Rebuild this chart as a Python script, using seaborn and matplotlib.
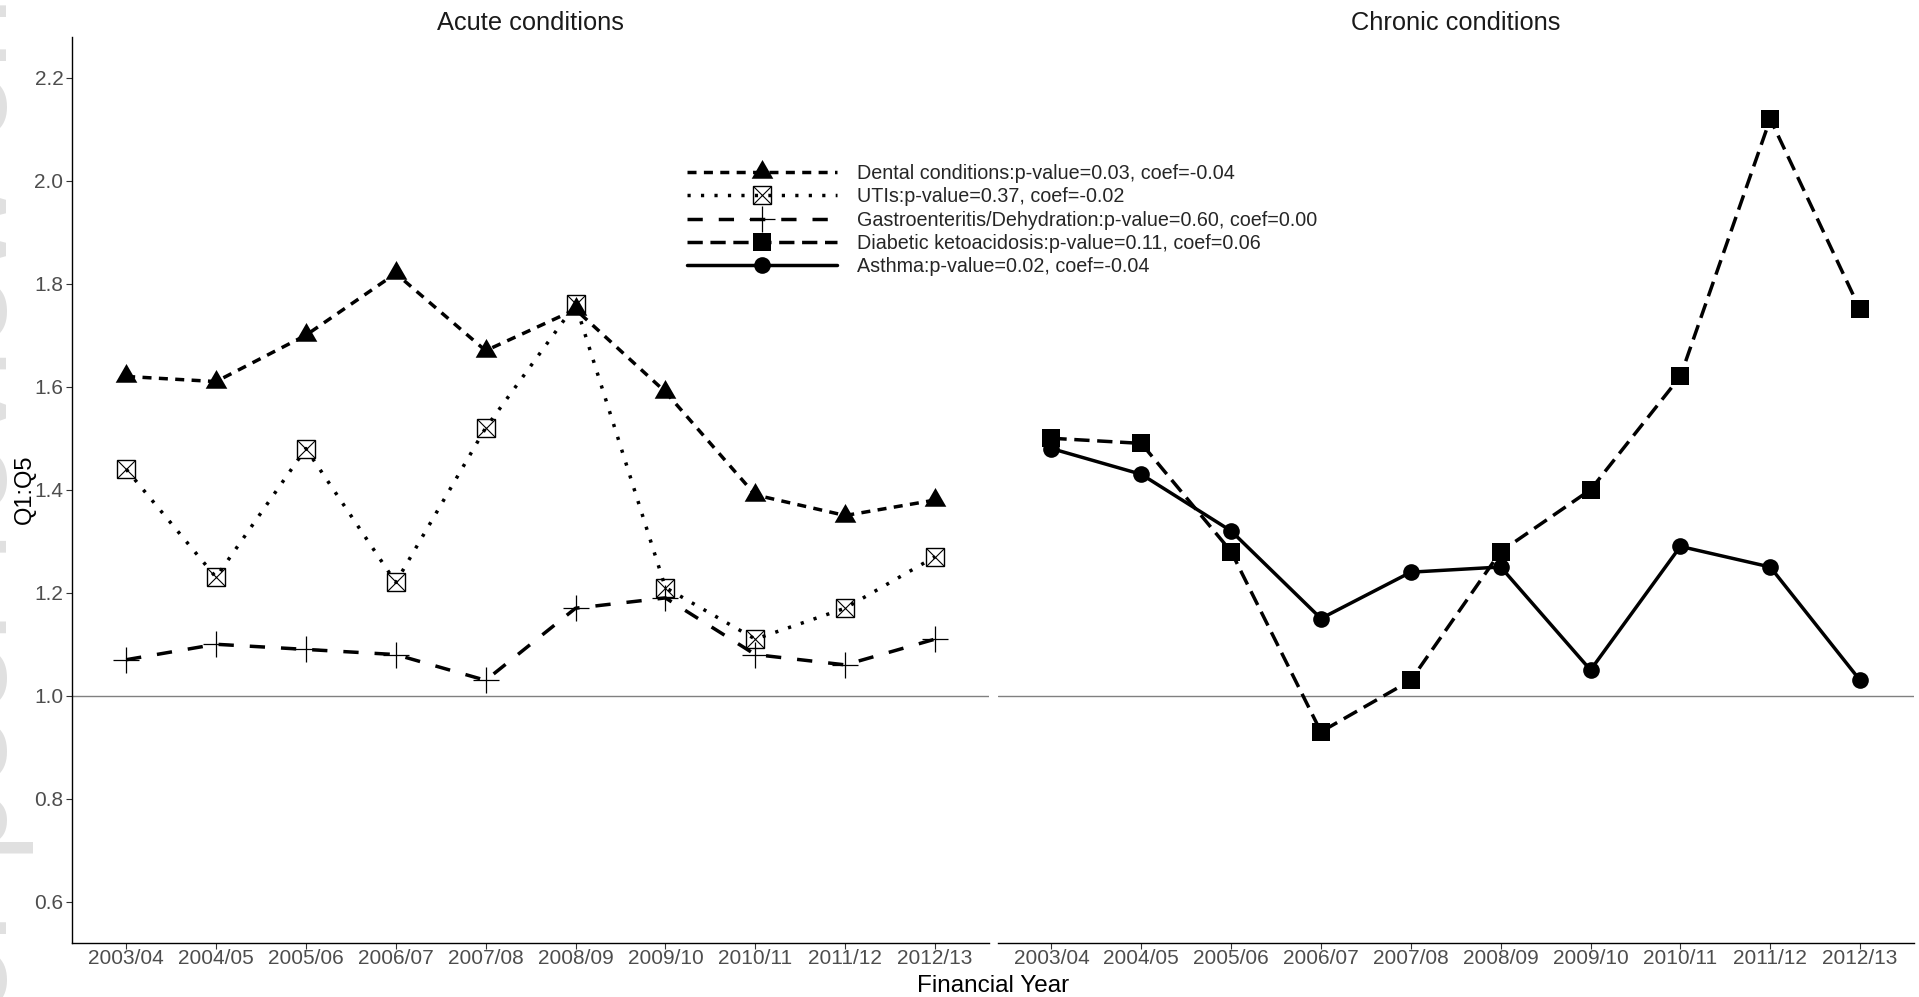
import matplotlib
matplotlib.use("Agg")
import matplotlib.pyplot as plt
import seaborn as sns
from matplotlib.lines import Line2D
from matplotlib.path import Path

# ---- data -------------------------------------------------------------
years = ["2003/04", "2004/05", "2005/06", "2006/07", "2007/08",
         "2008/09", "2009/10", "2010/11", "2011/12", "2012/13"]

dental = [1.62, 1.61, 1.70, 1.82, 1.67, 1.75, 1.59, 1.39, 1.35, 1.38]
utis = [1.44, 1.23, 1.48, 1.22, 1.52, 1.76, 1.21, 1.11, 1.17, 1.27]
gastro = [1.07, 1.10, 1.09, 1.08, 1.03, 1.17, 1.19, 1.08, 1.06, 1.11]
dka = [1.50, 1.49, 1.28, 0.93, 1.03, 1.28, 1.40, 1.62, 2.12, 1.75]
asthma = [1.48, 1.43, 1.32, 1.15, 1.24, 1.25, 1.05, 1.29, 1.25, 1.03]

legend_labels = [
    "Dental conditions:p-value=0.03, coef=-0.04",
    "UTIs:p-value=0.37, coef=-0.02",
    "Gastroenteritis/Dehydration:p-value=0.60, coef=0.00",
    "Diabetic ketoacidosis:p-value=0.11, coef=0.06",
    "Asthma:p-value=0.02, coef=-0.04",
]
panel_titles = ["Acute conditions", "Chronic conditions"]
y_ticks = [0.6, 0.8, 1.0, 1.2, 1.4, 1.6, 1.8, 2.0, 2.2]

# ---- style ------------------------------------------------------------
sns.set_style("white")
plt.rcParams["font.family"] = ["Liberation Sans", "DejaVu Sans"]
plt.rcParams["lines.scale_dashes"] = False
plt.rcParams["lines.dash_capstyle"] = "butt"

LW = 2.5
DASH_DENTAL = (0, (6.5, 5.3))
DOT_UTI = (0, (2.3, 7.4))
DASH_GASTRO = (0, (11.0, 11.5))
DASH_DKA = (0, (11.0, 5.5))

tri = Path([(0, 1), (-0.866, -0.5), (0.866, -0.5), (0, 1)],
           [Path.MOVETO, Path.LINETO, Path.LINETO, Path.CLOSEPOLY])

styles = {
    "dental": dict(ls=DASH_DENTAL, marker=tri, markersize=18, mfc="black",
                   mec="black", mew=0),
    "utis": dict(ls=DOT_UTI, marker="s", markersize=13, mfc="none",
                 mec="black", mew=1.0),
    "gastro": dict(ls=DASH_GASTRO, marker="+", markersize=19, mec="black",
                   mew=0.9),
    "dka": dict(ls=DASH_DKA, marker="s", markersize=12.7, mfc="black",
                mec="black", mew=0),
    "asthma": dict(ls="-", marker="o", markersize=12, mfc="black",
                   mec="black", mew=0),
}

W, H = 1919, 997
fig = plt.figure(figsize=(W / 100, H / 100), dpi=100)
fig.patch.set_facecolor("white")

# faint margin watermark
fig.text(34 / W, 0.5, "For peer review only", rotation=90, fontsize=95,
         color="#e0e0e0", ha="right", va="center", zorder=0)

top_px, bot_px = 37.0, 942.5
b = 1 - bot_px / H
h = (bot_px - top_px) / H
ax1 = fig.add_axes([72.2 / W, b, (989 - 72.2) / W, h])
ax2 = fig.add_axes([997.5 / W, b, (1914 - 997.5) / W, h])
for ax in (ax1, ax2):
    ax.set_facecolor("none")


def draw(ax, y, key):
    sns.lineplot(x=years, y=y, ax=ax, color="black", lw=LW, sort=False,
                 errorbar=None, **styles[key])


draw(ax1, dental, "dental")
draw(ax1, utis, "utis")
sns.lineplot(x=years, y=utis, ax=ax1, color="black", ls="none", marker="x",
             markersize=12.6, mec="black", mew=0.8, sort=False, errorbar=None)
draw(ax1, gastro, "gastro")
draw(ax2, dka, "dka")
draw(ax2, asthma, "asthma")

for ax in (ax1, ax2):
    ax.axhline(1.0, color="#808080", lw=1.0, zorder=1)
    ax.set_xlim(-0.6, 9.6)
    ax.set_ylim(0.521, 2.279)
    ax.set_xlabel("")
    ax.set_ylabel("")
    ax.set_xticks(range(len(years)))
    ax.set_xticklabels(years)
    for s in ("top", "right"):
        ax.spines[s].set_visible(False)
    ax.spines["bottom"].set_color("black")
    ax.spines["bottom"].set_linewidth(1.0)
    ax.tick_params(axis="x", length=4, width=0.8, color="#333333",
                   labelsize=15, labelcolor="#4D4D4D", pad=1.0, bottom=True)
    ax.grid(False)

ax1.spines["left"].set_color("black")
ax1.spines["left"].set_linewidth(1.0)
ax1.set_yticks(y_ticks)
ax1.set_yticklabels([f"{v:.1f}" for v in y_ticks])
ax1.tick_params(axis="y", length=4, width=0.8, color="#333333",
                labelsize=15, labelcolor="#4D4D4D", pad=2.4, left=True)
ax2.spines["left"].set_visible(False)
ax2.set_yticks([])

# panel titles
for ax, t in zip((ax1, ax2), panel_titles):
    pos = ax.get_position()
    fig.text(pos.x0 + pos.width / 2, 1 - 30 / H, t, ha="center",
             va="baseline", fontsize=18.3, color="#1A1A1A")

fig.text(993.1 / W, 1 - 991.5 / H, "Financial Year", ha="center",
         va="baseline", fontsize=17.5, color="black")
fig.text(25 / W, 1 - 489.6 / H, "Q1:Q5", ha="center", va="center",
         rotation=90, fontsize=17, color="black")

# legend
handles = []
for key in ("dental", "utis", "gastro", "dka", "asthma"):
    ln = Line2D([], [], color="black", lw=LW, **styles[key])
    if key == "utis":
        xm = Line2D([], [], color="black", ls="none", marker="x",
                    markersize=12.6, mec="black", mew=0.8)
        handles.append((ln, xm))
    else:
        handles.append(ln)

fig.legend(handles, legend_labels, loc="upper left",
           bbox_to_anchor=(687 / W, 1 - 164 / H),
           bbox_transform=fig.transFigure, frameon=False, fontsize=14.2,
           handlelength=7.6, handletextpad=1.0, labelspacing=0.22,
           borderpad=0, borderaxespad=0, numpoints=1)

fig.savefig("out.png", dpi=100, facecolor="white")
